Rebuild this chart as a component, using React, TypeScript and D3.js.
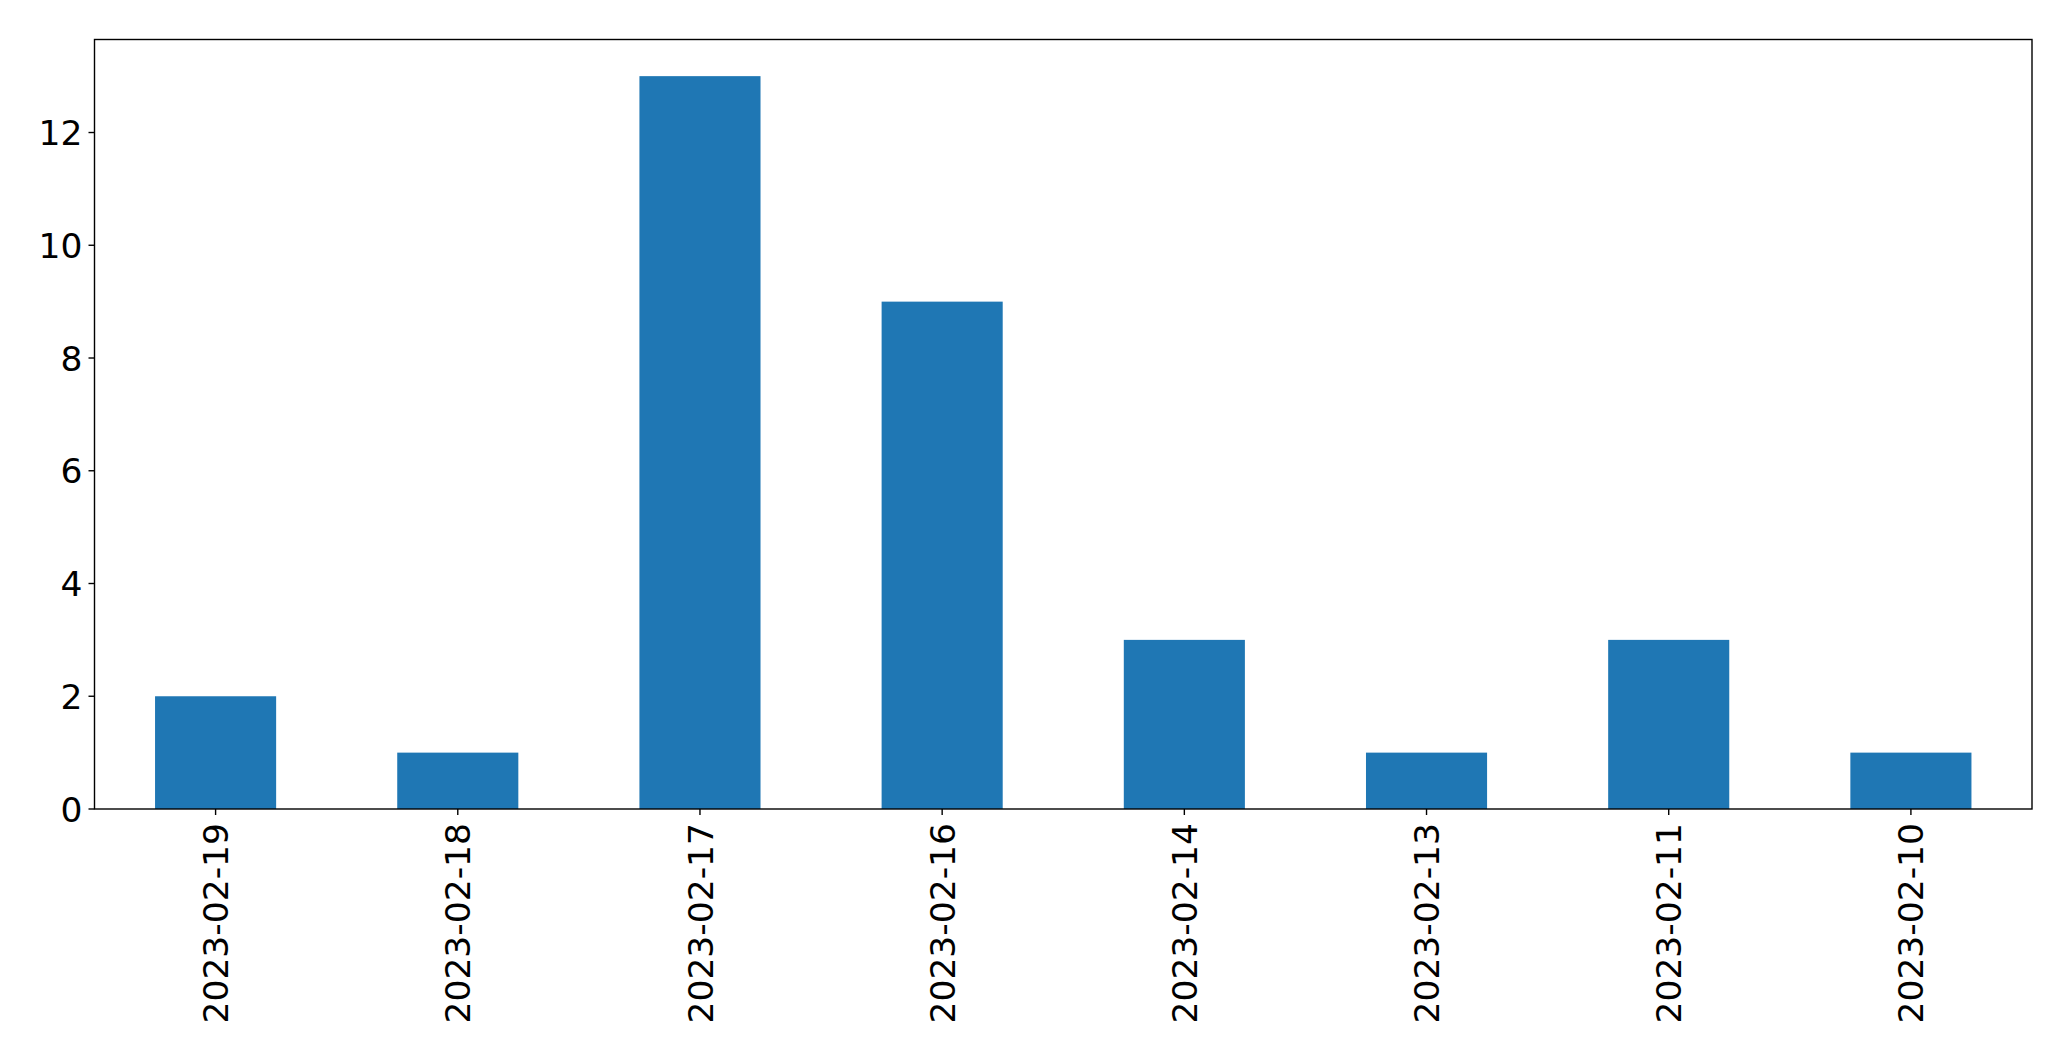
import React from "react";
import * as d3 from "d3";

const categories = ["2023-02-19", "2023-02-18", "2023-02-17", "2023-02-16", "2023-02-14", "2023-02-13", "2023-02-11", "2023-02-10"];
const values = [2, 1, 13, 9, 3, 1, 3, 1];
const yTicks = [0, 2, 4, 6, 8, 10, 12];

const W = 2071;
const H = 1061;
const left = 94.5;
const right = 2032;
const top = 39.5;
const bottom = 809;
const fs = 34.5;
const tickLen = 6;
const font = "'DejaVu Sans', sans-serif";

export default function App() {
  const x = d3.scaleLinear().domain([-0.5, categories.length - 0.5]).range([left, right]);
  const y = d3.scaleLinear().domain([0, d3.max(values)! * 1.05]).range([bottom, top]);
  const bw = x(0.25) - x(-0.25);
  return (
    <svg width={W} height={H} style={{ position: "absolute", left: 0, top: 0, background: "#fff" }}>
      <rect x={0} y={0} width={W} height={H} fill="#fff" />
      {values.map((v, i) => (
        <rect key={i} x={x(i) - bw / 2} y={y(v)} width={bw} height={y(0) - y(v)} fill="#1f77b4" />
      ))}
      <rect x={left} y={top} width={right - left} height={bottom - top} fill="none" stroke="#000" strokeWidth={1.4} />
      {yTicks.map((t) => (
        <g key={t}>
          <line x1={left - tickLen} x2={left} y1={y(t)} y2={y(t)} stroke="#000" strokeWidth={1.4} />
          <text x={left - tickLen - 6} y={y(t) + fs * 0.365} textAnchor="end" fontSize={fs} fontFamily={font} fill="#000">
            {t}
          </text>
        </g>
      ))}
      {categories.map((c, i) => (
        <g key={c}>
          <line x1={x(i)} x2={x(i)} y1={bottom} y2={bottom + tickLen} stroke="#000" strokeWidth={1.4} />
          <text
            transform={`translate(${x(i) + fs * 0.365},${bottom + tickLen + 8}) rotate(-90)`}
            textAnchor="end"
            fontSize={fs}
            fontFamily={font}
            fill="#000"
          >
            {c}
          </text>
        </g>
      ))}
    </svg>
  );
}
